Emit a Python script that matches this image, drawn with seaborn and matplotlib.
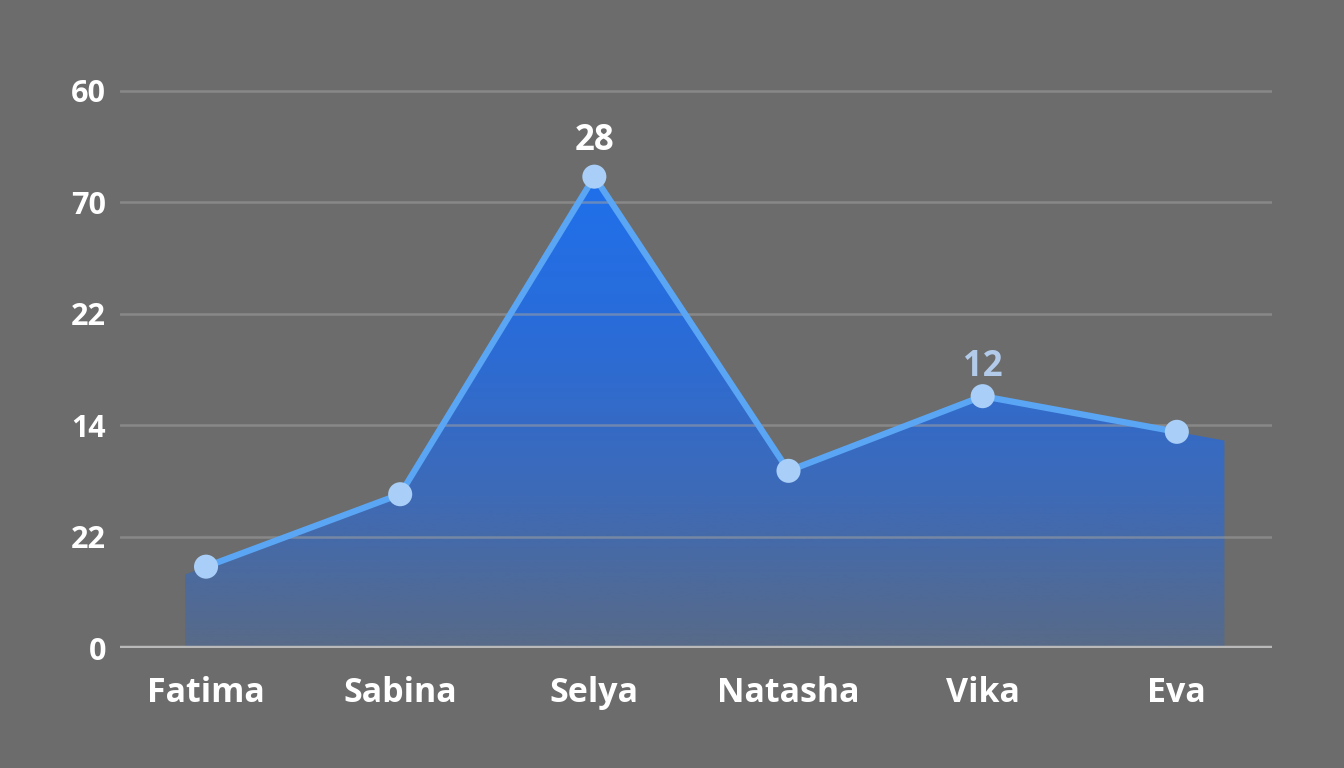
import numpy as np
import pandas as pd
import matplotlib
matplotlib.use("Agg")
import matplotlib.pyplot as plt
import seaborn as sns
from matplotlib.colors import LinearSegmentedColormap

# ------------------ Data ------------------
names = ["Fatima", "Sabina", "Selya", "Natasha", "Vika", "Eva"]
values = [7.3, 13.8, 42.3, 15.9, 22.6, 19.4]
ytick_pos = [0, 10, 20, 30, 40, 50]
ytick_labels = ["0", "22", "14", "22", "70", "60"]
annot_idx = [2, 4]
annot_text = ["28", "12"]

# ------------------ Style ------------------
BG = "#6b6c6b"
LINE = "#5aa6f4"
MARK = "#a9cff8"
annot_colors = ["white", "#b3cbea"]
annot_gap = [2.4, 1.8]
sns.set_theme(style="white")
plt.rcParams["font.family"] = ["Open Sans", "DejaVu Sans"]

df = pd.DataFrame({"name": names, "value": values, "x": np.arange(len(names))})

fig = plt.figure(figsize=(13.44, 7.68), dpi=100, facecolor=BG)
ax = fig.add_axes([0.0893, 0.15625, 0.8571, 0.798])
ax.set_facecolor(BG)

ax.set_xlim(-0.443, 5.49)
ax.set_ylim(0, 55)

# gradient-filled area, extended a little past both ends
pad_l, pad_r = 0.107, 0.245
xs = df["x"].to_numpy(dtype=float)
ys = df["value"].to_numpy(dtype=float)
left_y = ys[0] - pad_l * (ys[1] - ys[0])
right_y = ys[-1] + pad_r * (ys[-1] - ys[-2])
px = np.concatenate([[xs[0] - pad_l], xs, [xs[-1] + pad_r]])
py = np.concatenate([[left_y], ys, [right_y]])
poly_x = np.concatenate([px, [px[-1], px[0]]])
poly_y = np.concatenate([py, [0, 0]])
patch = ax.fill(poly_x, poly_y, facecolor="none", edgecolor="none")[0]

cmap = LinearSegmentedColormap.from_list("g", ["#586a88", "#3d6ab8", "#2a6cd8", "#1f70ec"])
grad = np.linspace(0, 1, 256).reshape(-1, 1)
im = ax.imshow(grad, cmap=cmap, origin="lower", aspect="auto",
               extent=[px[0], px[-1], 0, ys.max()], zorder=1)
im.set_clip_path(patch)

# grid lines over the fill
for yv in ytick_pos[1:]:
    ax.axhline(yv, color="#a0a0a0", lw=1.8, alpha=0.55, zorder=2)
ax.axhline(0, color="#b8b9b8", lw=3.2, zorder=3)

sns.lineplot(data=df, x="x", y="value", ax=ax, color=LINE, lw=4.5,
             solid_joinstyle="round", solid_capstyle="round", zorder=4)
sns.scatterplot(data=df, x="x", y="value", ax=ax, color=MARK, s=300,
                edgecolor="none", zorder=5)

for i, t, c, g in zip(annot_idx, annot_text, annot_colors, annot_gap):
    ax.text(xs[i], ys[i] + g, t, ha="center", va="baseline", fontsize=25,
            fontweight="bold", color=c, zorder=6)

ax.set_xticks(xs)
ax.set_xticklabels(names, fontsize=24.5, fontweight="bold", color="white")
ax.set_yticks(ytick_pos)
ax.set_yticklabels(ytick_labels, fontsize=22, fontweight="bold", color="white")
ax.tick_params(axis="x", length=0, pad=20)
ax.tick_params(axis="y", length=0, pad=10)
ax.set_xlabel("")
ax.set_ylabel("")
sns.despine(ax=ax, left=True, bottom=True, top=True, right=True)

fig.savefig("out.png", dpi=100, facecolor=BG)
